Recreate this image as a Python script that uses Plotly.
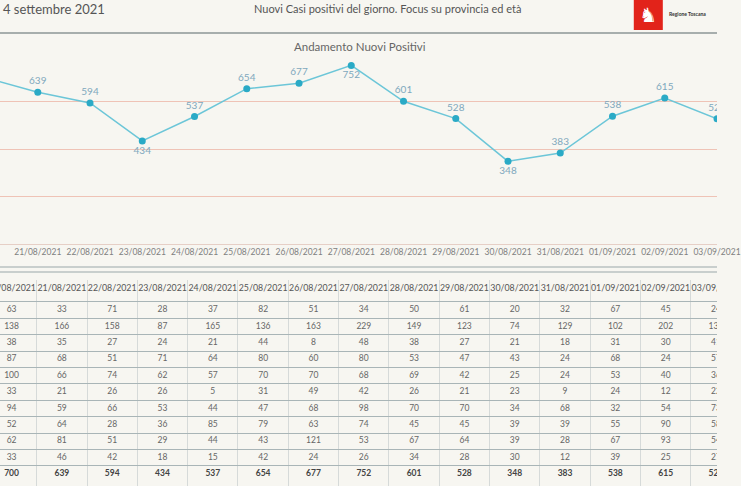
import plotly.graph_objects as go

W, H = 741, 486

date = ["20/08/2021", "21/08/2021", "22/08/2021", "23/08/2021", "24/08/2021",
        "25/08/2021", "26/08/2021", "27/08/2021", "28/08/2021", "29/08/2021",
        "30/08/2021", "31/08/2021", "01/09/2021", "02/09/2021", "03/09/2021"]
nuovi_positivi = [700, 639, 594, 434, 537, 654, 677, 752, 601, 528, 348, 383, 538, 615, 527]

# righe della tabella (nomi delle province tagliati nello screenshot)
riga_01 = [63, 33, 71, 28, 37, 82, 51, 34, 50, 61, 20, 32, 67, 45, 24]
riga_02 = [138, 166, 158, 87, 165, 136, 163, 229, 149, 123, 74, 129, 102, 202, 135]
riga_03 = [38, 35, 27, 24, 21, 44, 8, 48, 38, 27, 21, 18, 31, 30, 41]
riga_04 = [87, 68, 51, 71, 64, 80, 60, 80, 53, 47, 43, 24, 68, 24, 57]
riga_05 = [100, 66, 74, 62, 57, 70, 70, 68, 69, 42, 25, 24, 53, 40, 36]
riga_06 = [33, 21, 26, 26, 5, 31, 49, 42, 26, 21, 23, 9, 24, 12, 22]
riga_07 = [94, 59, 66, 53, 44, 47, 68, 98, 70, 70, 34, 68, 32, 54, 73]
riga_08 = [52, 64, 28, 36, 85, 79, 63, 74, 45, 45, 39, 39, 55, 90, 58]
riga_09 = [62, 81, 51, 29, 44, 43, 121, 53, 67, 64, 39, 28, 67, 93, 54]
riga_10 = [33, 46, 42, 18, 15, 42, 24, 26, 34, 28, 30, 12, 39, 25, 27]
righe = [riga_01, riga_02, riga_03, riga_04, riga_05,
         riga_06, riga_07, riga_08, riga_09, riga_10]

FONT = "Lato"
BG = "#f7f6f1"


def px(x):
    return x / W


def py(y):
    return 1 - y / H


label_below = {"23/08/2021", "27/08/2021", "30/08/2021"}
positions = ["bottom center" if d in label_below else "top center" for d in date]

fig = go.Figure()

fig.add_trace(go.Scatter(
    x=date, y=nuovi_positivi,
    mode="lines+markers+text",
    text=[str(v) for v in nuovi_positivi],
    textposition=positions,
    textfont=dict(family=FONT, size=10, color="#7fa8bd"),
    line=dict(color="#6cc6d8", width=1.5),
    marker=dict(color="#2aaac6", size=7),
    xaxis="x", yaxis="y",
))

# tabella: intestazione, righe e totale
fig.add_trace(go.Scatter(
    x=date, y=[-1.3] * len(date), mode="text", text=date,
    textfont=dict(family=FONT, size=8.8, color="#555555"),
    xaxis="x2", yaxis="y2",
))
for k, riga in enumerate(righe):
    fig.add_trace(go.Scatter(
        x=date, y=[k] * len(date), mode="text", text=[str(v) for v in riga],
        textfont=dict(family=FONT, size=8.5, color="#666666"),
        xaxis="x2", yaxis="y2",
    ))
fig.add_trace(go.Scatter(
    x=date, y=[10] * len(date), mode="text",
    text=["<b>%d</b>" % v for v in nuovi_positivi],
    textfont=dict(family=FONT, size=8.5, color="#444444"),
    xaxis="x2", yaxis="y2",
))

fig.update_layout(
    width=W, height=H,
    margin=dict(l=0, r=0, t=0, b=0),
    paper_bgcolor=BG, plot_bgcolor=BG,
    showlegend=False,
    font=dict(family=FONT),
    xaxis=dict(
        type="category", categoryarray=date, range=[0.277, 14.0],
        domain=[0, 1], anchor="y",
        showgrid=False, showline=True, linecolor="#e6cfc6", linewidth=1,
        ticks="", tickfont=dict(family=FONT, size=8.5, color="#808080"),
    ),
    yaxis=dict(
        range=[0, 800], domain=[py(244), py(54)], anchor="x",
        tickvals=[200, 400, 600], showticklabels=False,
        showgrid=True, gridcolor="#efc3b6", gridwidth=1, zeroline=False,
    ),
    xaxis2=dict(
        type="category", categoryarray=date, range=[-0.23, 14.02],
        domain=[0, 1], anchor="y2", tickson="boundaries",
        showgrid=True, gridcolor="#d6dad9", gridwidth=1,
        showticklabels=False, ticks="", zeroline=False,
    ),
    yaxis2=dict(
        range=[10.73, -1.83], domain=[0, py(280)], anchor="x2",
        tickvals=[k + 0.5 for k in range(-1, 10)], showticklabels=False,
        showgrid=True, gridcolor="#a9b5b7", gridwidth=1, zeroline=False,
    ),
)

shapes = [
    dict(type="line", xref="paper", yref="paper", x0=0, x1=1, y0=py(33), y1=py(33),
         line=dict(color="#8d9696", width=1.5)),
    dict(type="line", xref="paper", yref="paper", x0=0, x1=1, y0=py(267), y1=py(267),
         line=dict(color="#9aa7a9", width=1)),
    dict(type="line", xref="paper", yref="paper", x0=0, x1=1, y0=py(272), y1=py(272),
         line=dict(color="#9aa7a9", width=1)),
    dict(type="rect", xref="paper", yref="paper", x0=px(655), x1=px(685), y0=py(30), y1=py(0),
         fillcolor="#e2231a", line=dict(width=0)),
]
fig.update_layout(shapes=shapes)

annotations = [
    dict(text="4 settembre 2021", x=px(1), y=py(9), xanchor="left",
         font=dict(size=13, color="#555555")),
    dict(text="Nuovi Casi positivi del giorno. Focus su provincia ed età", x=px(400), y=py(8),
         xanchor="center", font=dict(size=11, color="#555555")),
    dict(text="Andamento Nuovi Positivi", x=px(372), y=py(46), xanchor="center",
         font=dict(size=11.5, color="#666666")),
    dict(text="♞", x=px(670), y=py(15), xanchor="center",
         font=dict(family="DejaVu Sans", size=20, color="#ffffff")),
    dict(text="<b>Regione Toscana</b>", x=px(689), y=py(14), xanchor="left",
         font=dict(size=5, color="#333333")),
]
for a in annotations:
    a.update(xref="paper", yref="paper", yanchor="middle", showarrow=False)
fig.update_layout(annotations=annotations)

# la pagina ha un margine di 8px sul body: lo togliamo
fig.write_html(
    "out.html",
    config={"displayModeBar": False},
    post_script=(
        "document.body.style.margin='0';"
        "document.body.style.overflow='hidden';"
        "document.body.style.background='%s';" % BG
    ),
)
